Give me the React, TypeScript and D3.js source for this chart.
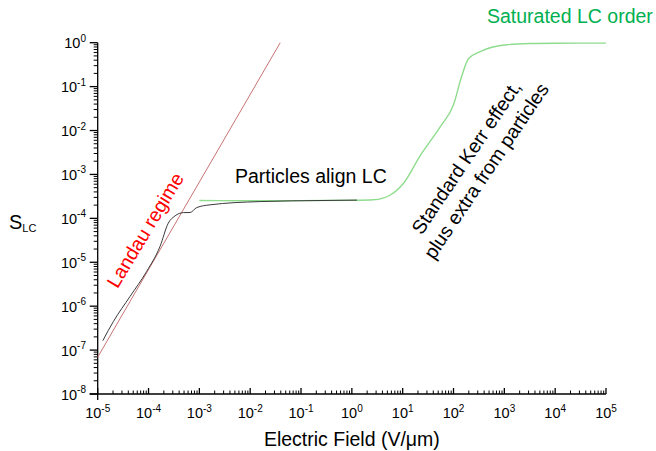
import * as d3 from "d3";

// Landau regime (straight line in log-log)
const landauField = [1e-5, 0.039];
const landauS = [6.9e-8, 1.0];

// measured order with particles (black)
const particleField = [1.26e-5, 2.04e-5, 4.3e-5, 9.2e-5, 1.68e-4, 2.45e-4, 3.33e-4, 4.84e-4, 6.56e-4, 8.9e-4, 1.62e-3, 1.57e-2, 0.27, 1.26];
const particleS = [1.64e-7, 4.5e-7, 1.65e-6, 6.2e-6, 2.28e-5, 7.8e-5, 1.14e-4, 1.35e-4, 1.36e-4, 1.76e-4, 2.03e-4, 2.41e-4, 2.55e-4, 2.6e-4];

// Kerr + saturation (green)
const kerrField = [1e-3, 1e-2, 1e-1, 1, 2.66, 5.7, 10.4, 22, 55, 100, 146, 197, 336, 1120, 3240, 1e4, 1e5];
const kerrS = [2.55e-4, 2.52e-4, 2.53e-4, 2.58e-4, 2.65e-4, 3.4e-4, 6.3e-4, 2.65e-3, 0.0122, 0.0387, 0.177, 0.43, 0.63, 0.9, 0.96, 0.975, 0.98];

const xTickExps = [-5, -4, -3, -2, -1, 0, 1, 2, 3, 4, 5];
const yTickExps = [0, -1, -2, -3, -4, -5, -6, -7, -8];

const W = 656;
const H = 451;
const left = 97.7;
const right = 606;
const top = 42.7;
const bottom = 394;
const font = "'Liberation Sans', Arial, sans-serif";

const x = d3.scaleLog().domain([1e-5, 1e5]).range([left, right]);
const y = d3.scaleLog().domain([1e-8, 1]).range([bottom, top]);

const toPts = (xs: number[], ys: number[]) => xs.map((v, i) => [x(v), y(ys[i])] as [number, number]);
const line = d3.line().curve(d3.curveMonotoneX);

const minors = (lo: number, hi: number) => {
  const out: number[] = [];
  for (let e = lo; e < hi; e++) for (let k = 2; k <= 9; k++) out.push(k * Math.pow(10, e));
  return out;
};

function Pow({ e }: { e: number }) {
  return (
    <>
      <tspan>10</tspan>
      <tspan dy={-6.5} fontSize={10}>{String(e)}</tspan>
    </>
  );
}

export default function App() {
  return (
    <svg width={W} height={H} style={{ position: "absolute", left: 0, top: 0, background: "#fff" }} fontFamily={font}>
      {/* y axis */}
      <line x1={left} x2={left} y1={top} y2={bottom + 6} stroke="#000" strokeWidth={1.3} />
      {minors(-8, 0).map((v) => (
        <line key={"ym" + v} x1={left - 4} x2={left} y1={y(v)} y2={y(v)} stroke="#000" strokeWidth={1} />
      ))}
      {yTickExps.map((e) => (
        <g key={"y" + e}>
          <line x1={left - 8} x2={left} y1={y(Math.pow(10, e))} y2={y(Math.pow(10, e))} stroke="#000" strokeWidth={1.3} />
          <text x={86} y={y(Math.pow(10, e)) + 5.5} textAnchor="end" fontSize={14.5}>
            <Pow e={e} />
          </text>
        </g>
      ))}
      {/* x axis */}
      <line x1={left - 8} x2={right} y1={bottom} y2={bottom} stroke="#000" strokeWidth={1.3} />
      {minors(-5, 5).map((v) => (
        <line key={"xm" + v} x1={x(v)} x2={x(v)} y1={bottom} y2={bottom - 3.5} stroke="#000" strokeWidth={1} />
      ))}
      {xTickExps.map((e) => (
        <g key={"x" + e}>
          <line x1={x(Math.pow(10, e))} x2={x(Math.pow(10, e))} y1={bottom} y2={bottom - 6} stroke="#000" strokeWidth={1.3} />
          <text x={x(Math.pow(10, e))} y={418} textAnchor="middle" fontSize={14.5}>
            <Pow e={e} />
          </text>
        </g>
      ))}
      <text x={x(1)} y={446} textAnchor="middle" fontSize={19.5}>
        Electric Field (V/μm)
      </text>
      <text x={9} y={229} fontSize={20}>
        S<tspan fontSize={11} dy={3}>LC</tspan>
      </text>

      {/* curves */}
      <path d={line(toPts(landauField, landauS)) ?? ""} fill="none" stroke="#c87474" strokeWidth={1} />
      <path d={line(toPts(kerrField, kerrS)) ?? ""} fill="none" stroke="#8fdc8f" strokeWidth={1.4} />
      <path d={line(toPts(particleField, particleS)) ?? ""} fill="none" stroke="#3a3a3a" strokeWidth={1} />

      {/* annotations */}
      <text transform="translate(145,230) rotate(-59)" textAnchor="middle" dominantBaseline="central" fontSize={19.5} fill="#ff0000">
        Landau regime
      </text>
      <text x={235} y={183} fontSize={19.5} fill="#000">
        Particles align LC
      </text>
      <text x={487} y={23} fontSize={19.5} fill="#00b050">
        Saturated LC order
      </text>
      <g transform="translate(476,164) rotate(-56)">
        <text x={0} y={-12} textAnchor="middle" dominantBaseline="central" fontSize={19.5}>
          Standard Kerr effect,
        </text>
        <text x={0} y={12} textAnchor="middle" dominantBaseline="central" fontSize={19.5}>
          plus extra from particles
        </text>
      </g>
    </svg>
  );
}
